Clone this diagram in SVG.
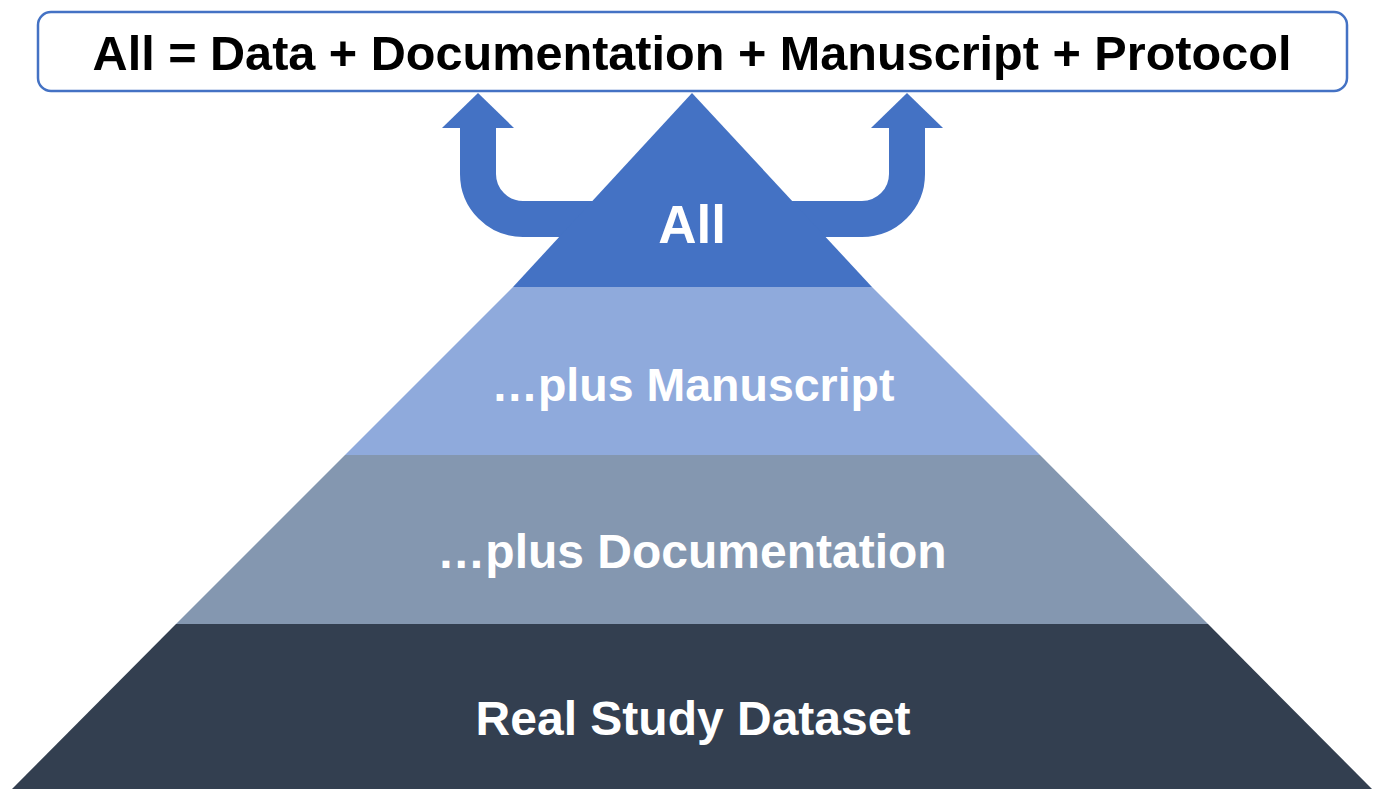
<svg xmlns="http://www.w3.org/2000/svg" width="1379" height="789" viewBox="0 0 1379 789">
<style>
.lbl{font-family:"Liberation Sans",Arial,sans-serif;font-weight:bold;font-size:48px;text-anchor:middle;fill:#ffffff}
.title{font-family:"Liberation Sans",Arial,sans-serif;font-weight:bold;font-size:48.6px;text-anchor:middle;fill:#000000}
</style>
<rect width="1379" height="789" fill="#ffffff"/>
<g id="connectors">
<path d="M478,126 V174 A45,45 0 0 0 523,219 H862 A45,45 0 0 0 907,174 V126" fill="none" stroke="#4472C4" stroke-width="36"/>
<polygon points="442,128 478,93 514,128" fill="#4472C4"/>
<polygon points="871,128 907,93 943,128" fill="#4472C4"/>
</g>
<g id="title-box">
<rect x="38" y="12" width="1309" height="79" rx="13" fill="#ffffff" stroke="#4472C4" stroke-width="2.5"/>
<text class="title" x="692" y="70">All = Data + Documentation + Manuscript + Protocol</text>
</g>
<g id="level-dataset">
<polygon points="176,624 1208,624 1372,789 12,789" fill="#333F50"/>
<text class="lbl" x="693" y="735">Real Study Dataset</text>
</g>
<g id="level-documentation">
<polygon points="345,455 1040,455 1208,624 176,624" fill="#8497B0"/>
<text class="lbl" x="692" y="568">…plus Documentation</text>
</g>
<g id="level-manuscript">
<polygon points="513,287 872,287 1040,455 345,455" fill="#8FAADC"/>
<text class="lbl" x="693" y="401" style="font-size:46.5px">…plus Manuscript</text>
</g>
<g id="level-all">
<polygon points="692,93 872,287 513,287" fill="#4472C4"/>
<text class="lbl" x="692" y="243" style="font-size:53px">All</text>
</g>
</svg>
